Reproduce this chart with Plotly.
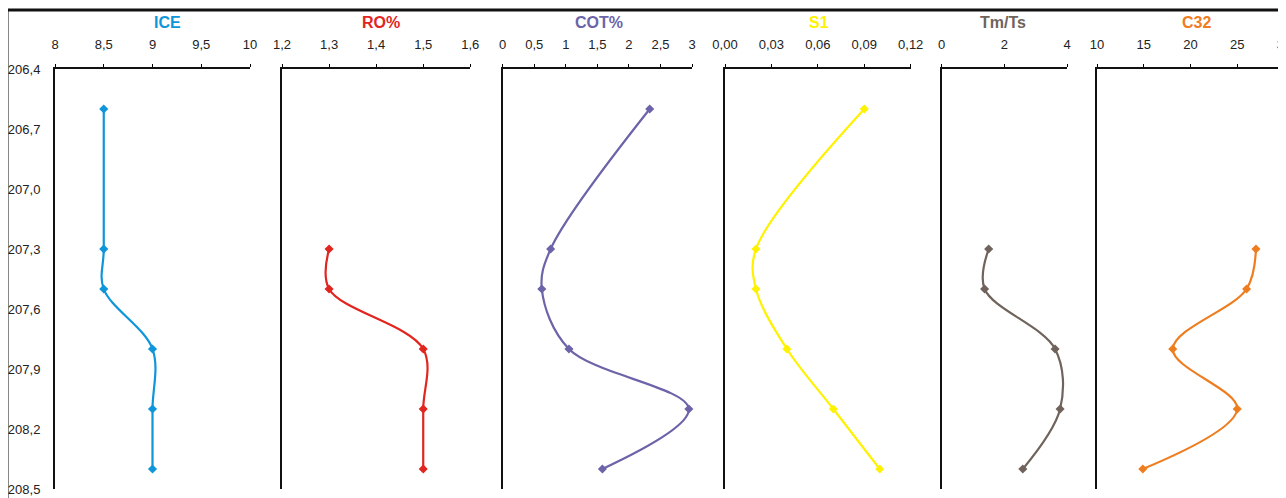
import plotly.graph_objects as go

# ---------------- data ----------------
depth_full = [206.6, 207.3, 207.5, 207.8, 208.1, 208.4]
depth_lower = [207.3, 207.5, 207.8, 208.1, 208.4]

ice = [8.5, 8.5, 8.5, 9.0, 9.0, 9.0]
ro = [1.3, 1.3, 1.5, 1.5, 1.5]
cot = [2.33, 0.76, 0.62, 1.05, 2.95, 1.58]
s1 = [0.09, 0.02, 0.02, 0.04, 0.07, 0.10]
tmts = [1.50, 1.37, 3.62, 3.78, 2.59]
c32 = [27.0, 26.0, 18.1, 25.0, 14.9]

y_tickvals = [206.4, 206.7, 207.0, 207.3, 207.6, 207.9, 208.2, 208.5]
y_ticktext = ["206,4", "206,7", "207,0", "207,3", "207,6", "207,9", "208,2", "208,5"]

ice_tickvals = [8, 8.5, 9, 9.5, 10]
ice_ticktext = ["8", "8,5", "9", "9,5", "10"]
ro_tickvals = [1.2, 1.3, 1.4, 1.5, 1.6]
ro_ticktext = ["1,2", "1,3", "1,4", "1,5", "1,6"]
cot_tickvals = [0, 0.5, 1, 1.5, 2, 2.5, 3]
cot_ticktext = ["0", "0,5", "1", "1,5", "2", "2,5", "3"]
s1_tickvals = [0, 0.03, 0.06, 0.09, 0.12]
s1_ticktext = ["0,00", "0,03", "0,06", "0,09", "0,12"]
tmts_tickvals = [0, 2, 4]
tmts_ticktext = ["0", "2", "4"]
c32_tickvals = [10, 15, 20, 25, 30]
c32_ticktext = ["10", "15", "20", "25", "30"]

titles = ["ICE", "RO%", "COT%", "S1", "Tm/Ts", "C32"]
colors = ["#0F95D9", "#E1251F", "#6C64A8", "#FFF200", "#6F635C", "#EE7D1F"]

# ---------------- layout constants ----------------
SCREEN_W, SCREEN_H = 1286, 498
OFF = 8  # page body margin of the html page
W, H = SCREEN_W - OFF, SCREEN_H - OFF
FONT = "Liberation Sans, Arial, sans-serif"


def px_x(px):
    return (px - OFF) / W


def px_y(py):
    return 1 - (py - OFF) / H


panel_px = [(55, 250), (282, 470.3), (502.7, 692), (725, 910.7), (941.7, 1067), (1097, 1284)]
title_px = [167, 381, 599, 819, 1003, 1196]
y_top_px, y_bot_px = 69, 489
ydom = [px_y(y_bot_px), px_y(y_top_px)]

series = [
    (ice, depth_full, ice_tickvals, ice_ticktext, [8, 10]),
    (ro, depth_lower, ro_tickvals, ro_ticktext, [1.2, 1.6]),
    (cot, depth_full, cot_tickvals, cot_ticktext, [0, 3]),
    (s1, depth_full, s1_tickvals, s1_ticktext, [0, 0.12]),
    (tmts, depth_lower, tmts_tickvals, tmts_ticktext, [0, 4]),
    (c32, depth_lower, c32_tickvals, c32_ticktext, [10, 30]),
]

fig = go.Figure()
layout = dict(
    width=W, height=H, autosize=False,
    margin=dict(l=0, r=0, t=0, b=0, pad=0),
    paper_bgcolor="white", plot_bgcolor="white",
    showlegend=False,
    font=dict(family=FONT, size=13, color="#222222"),
)

annotations = []
for i, (vals, dep, tv, tt, rng) in enumerate(series):
    n = i + 1
    xs = "x" if n == 1 else f"x{n}"
    ys = "y" if n == 1 else f"y{n}"
    fig.add_trace(go.Scatter(
        x=vals, y=dep, xaxis=xs, yaxis=ys,
        mode="lines+markers",
        line=dict(color=colors[i], width=2.2, shape="spline", smoothing=1),
        marker=dict(symbol="diamond", size=7, color=colors[i]),
        cliponaxis=False,
    ))
    x0, x1 = panel_px[i]
    layout[f"xaxis{'' if n == 1 else n}"] = dict(
        domain=[px_x(x0), px_x(x1)], range=rng, side="top", anchor=ys,
        tickmode="array", tickvals=tv, ticktext=tt,
        ticks="outside", ticklen=3, tickwidth=1, tickcolor="#000000",
        ticklabelstandoff=10, ticklabeloverflow="allow",
        showline=True, linecolor="#111111", linewidth=2,
        showgrid=False, zeroline=False, automargin=False,
        tickfont=dict(family=FONT, size=13, color="#222222"),
        fixedrange=True,
    )
    yax = dict(
        domain=ydom, range=[208.5, 206.4], anchor=xs,
        showline=True, linecolor="#111111", linewidth=2,
        showgrid=False, zeroline=False, automargin=False,
        fixedrange=True,
    )
    if n == 1:
        yax.update(tickmode="array", tickvals=y_tickvals, ticktext=y_ticktext,
                   ticks="", showticklabels=True, ticklabelstandoff=10,
                   ticklabeloverflow="allow",
                   tickfont=dict(family=FONT, size=13, color="#222222"))
    else:
        yax.update(showticklabels=False, ticks="", matches="y")
    layout[f"yaxis{'' if n == 1 else n}"] = yax

    annotations.append(dict(
        text=f"<b>{titles[i]}</b>", x=px_x(title_px[i]), y=px_y(22),
        xref="paper", yref="paper", xanchor="center", yanchor="middle",
        showarrow=False, font=dict(family=FONT, size=16, color=colors[i]),
    ))

layout["annotations"] = annotations
layout["shapes"] = [
    dict(type="line", xref="paper", yref="paper", x0=px_x(7), x1=1.0,
         y0=px_y(10), y1=px_y(10), line=dict(color="#111111", width=3)),
    dict(type="line", xref="paper", yref="paper", x0=px_x(7), x1=px_x(7),
         y0=px_y(10), y1=0, line=dict(color="#111111", width=3)),
]
fig.update_layout(**layout)
fig.write_html("out.html")
